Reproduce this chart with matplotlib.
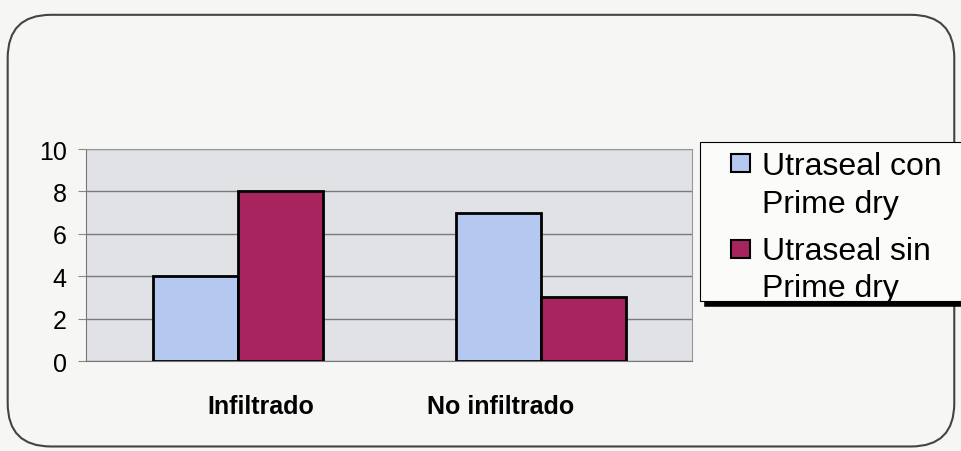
import matplotlib
matplotlib.use('Agg')
import matplotlib.pyplot as plt
import matplotlib.transforms as mtransforms
from matplotlib.patches import FancyBboxPatch, Rectangle
from matplotlib.lines import Line2D
import numpy as np

categories = ['Infiltrado', 'No infiltrado']
con_prime = [4, 7]
sin_prime = [8, 3]
series_names = [['Utraseal con', 'Prime dry'], ['Utraseal sin', 'Prime dry']]
yticks = [0, 2, 4, 6, 8, 10]

blue = '#b4c8f0'
maroon = '#a8245e'

plt.rcParams['font.family'] = ['Liberation Sans', 'DejaVu Sans']

W, H = 961, 452
fig = plt.figure(figsize=(W / 100, H / 100), dpi=100)
fig.patch.set_facecolor('#f6f6f4')


def fx(px):
    return px / W


def fy(py):
    # pixel row from top -> figure fraction
    return 1 - py / H


# rounded outer frame
frame = FancyBboxPatch((0.008, 0.01), 0.985, 0.955, boxstyle='round,pad=0,rounding_size=0.045',
                       transform=fig.transFigure, facecolor='none', edgecolor='#444444',
                       linewidth=1.5, mutation_aspect=W / H)
fig.add_artist(frame)

ax = fig.add_axes([0.0895, 0.199, 0.631, 0.469])
ax.set_facecolor('#e1e2e6')

x = np.arange(len(categories))
w = 0.28
ax.bar(x - w/2, con_prime, w, color=blue, edgecolor='black', linewidth=2, zorder=3)
ax.bar(x + w/2, sin_prime, w, color=maroon, edgecolor='black', linewidth=2, zorder=3)

ax.set_xlim(-0.5, 1.5)
ax.set_ylim(0, 10)
ax.set_yticks(yticks)
ax.set_yticklabels([str(v) for v in yticks], fontsize=18)
ax.set_xticks(x)
ax.set_xticklabels(categories, fontsize=18, fontweight='bold')
ax.tick_params(axis='x', length=0, pad=24)
ax.tick_params(axis='y', length=6, color='#888888', pad=8)
ax.grid(axis='y', color='#7a7a7a', linewidth=1, zorder=1)
for s in ['top', 'right']:
    ax.spines[s].set_color('#999999')
for s in ['left', 'bottom']:
    ax.spines[s].set_color('#777777')

# the scanned labels sit a bit off the group centres
for lab, dx in zip(ax.get_xticklabels(), [23, -40]):
    lab.set_transform(lab.get_transform() + mtransforms.ScaledTranslation(dx / 100, 0, fig.dpi_scale_trans))

# legend drawn by hand (box runs off the right edge)
fig.add_artist(Rectangle((fx(700), fy(302)), fx(280), fy(143) - fy(302), transform=fig.transFigure,
                         facecolor='#fbfbfa', edgecolor='black', linewidth=0.8))
fig.add_artist(Line2D([fx(707), 1.0], [fy(305), fy(305)], transform=fig.transFigure,
                      color='black', linewidth=4))
swatch_top = [155, 241]
baselines = [[175, 213], [260, 297]]
for color, top, lines, base in zip([blue, maroon], swatch_top, series_names, baselines):
    fig.add_artist(Rectangle((fx(731), fy(top + 18)), fx(19), fy(top) - fy(top + 18),
                             transform=fig.transFigure, facecolor=color,
                             edgecolor='black', linewidth=1.5))
    for txt, b in zip(lines, base):
        fig.text(fx(762), fy(b), txt, fontsize=23, va='baseline', ha='left')

fig.savefig('out.png', dpi=100, facecolor=fig.get_facecolor())
